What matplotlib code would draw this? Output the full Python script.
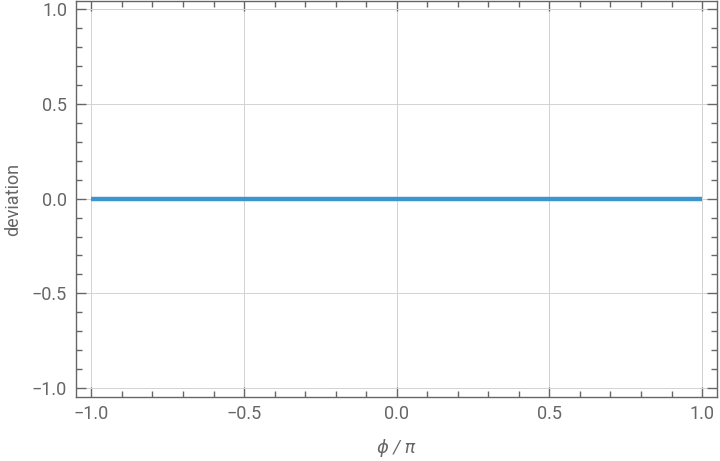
import matplotlib.pyplot as plt
from matplotlib.ticker import MultipleLocator

# data: deviation vs phi/pi
phi = [-1.0, 1.0]
deviation = [0.0, 0.0]

xticks = [-1.0, -0.5, 0.0, 0.5, 1.0]
yticks = [-1.0, -0.5, 0.0, 0.5, 1.0]

plt.rcParams['font.family'] = ['Roboto', 'DejaVu Sans']
gray = '#666666'

fig = plt.figure(figsize=(7.2, 4.61), dpi=100)
W, H = 720, 461
ax = fig.add_axes([75.5 / W, 1 - 397 / H, (717 - 75.5) / W, (397 - 1.5) / H])

ax.plot(phi, deviation, color='#3d95d0', lw=3.2, solid_capstyle='butt', zorder=3)

ax.set_xlim(-1.052, 1.049)
ax.set_ylim(-1.048, 1.042)
ax.set_xticks(xticks)
ax.set_yticks(yticks)
ax.set_xticklabels(['\u22121.0', '\u22120.5', '0.0', '0.5', '1.0'])
ax.set_yticklabels(['\u22121.0', '\u22120.5', '0.0', '0.5', '1.0'])
ax.xaxis.set_minor_locator(MultipleLocator(0.1))
ax.yaxis.set_minor_locator(MultipleLocator(0.1))

ax.tick_params(which='both', direction='in', top=True, right=True,
               color=gray, labelcolor=gray, labelsize=13, width=1)
ax.tick_params(which='major', length=7, pad=6)
ax.tick_params(which='minor', length=4)

for s in ax.spines.values():
    s.set_color(gray)
    s.set_linewidth(1)

ax.grid(True, which='major', color='#d2d2d2', lw=0.7)
ax.set_axisbelow(True)

ax.set_xlabel('\u03d5 / \u03c0', color=gray, fontsize=13, style='italic', labelpad=11)
ax.set_ylabel('deviation', color=gray, fontsize=13, labelpad=7)

fig.savefig('out.png', dpi=100)
